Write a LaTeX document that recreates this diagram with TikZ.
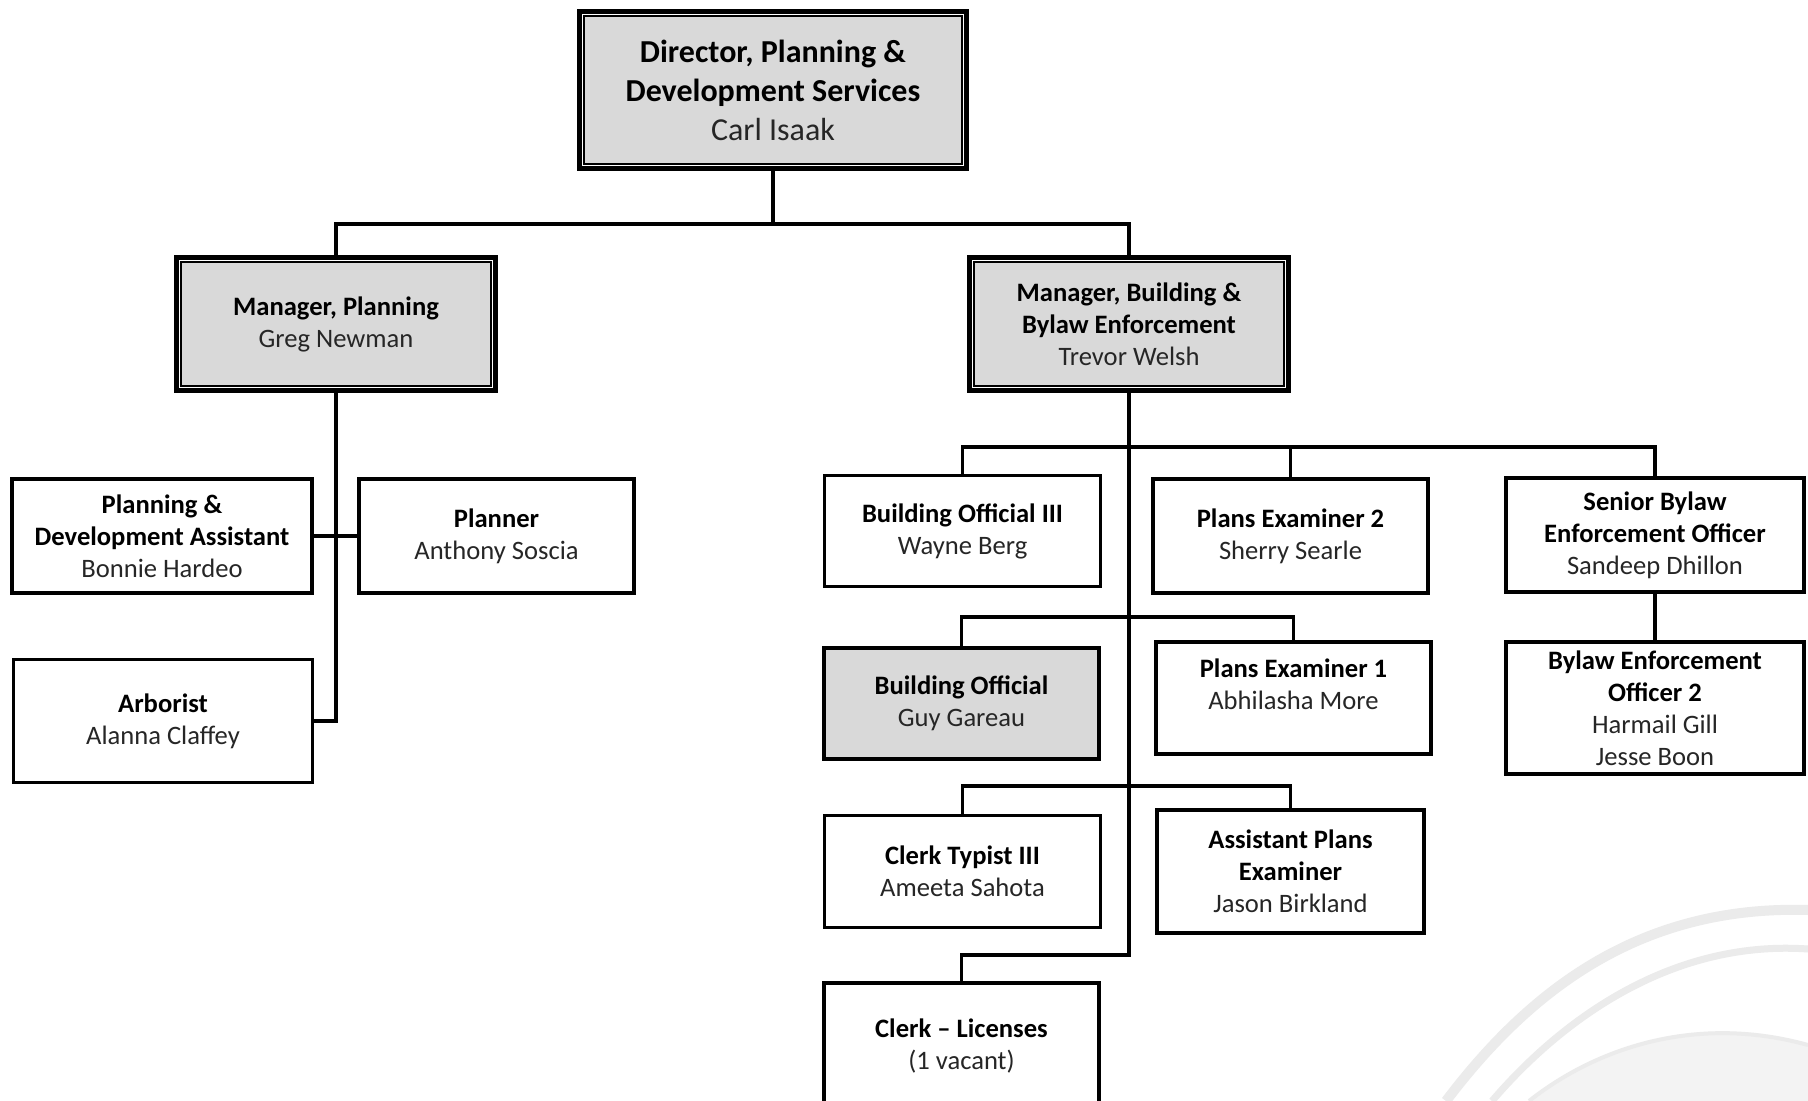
\documentclass[tikz,border=0pt]{standalone}
\usepackage{fontspec}
\setmainfont{Carlito}
\definecolor{boxgray}{HTML}{D9D9D9}
\definecolor{namegray}{HTML}{262626}
\definecolor{markline}{HTML}{EBEBEB}
\definecolor{markfill}{HTML}{F3F3F3}
\newcommand\who[1]{\textcolor{namegray}{#1}}
% thin second frame just inside a heavy head box, with a white gap between
\newcommand\innerframe[1]{%
  \draw[white, line width=0.6pt] ([shift={(5.6,5.6)}]#1.north west) rectangle ([shift={(-5.6,-5.6)}]#1.south east);
  \draw[line width=0.8pt] ([shift={(7,7)}]#1.north west) rectangle ([shift={(-7,-7)}]#1.south east);}
\begin{document}
\begin{tikzpicture}[x=0.5pt,y=-0.5pt,
  sz/.style 2 args={minimum width=#1*0.5pt, minimum height=#2*0.5pt},
  box/.style={draw, rectangle, align=center, inner sep=0pt, line width=1.75pt,
              font=\fontsize{13.3}{16}\selectfont, text=black},
  thinbox/.style={box, line width=1.25pt},
  heavybox/.style={box, line width=2.25pt},
  graybox/.style={box, fill=boxgray, line width=2pt},
  headbox/.style={box, fill=boxgray, line width=2.5pt},
  link/.style={line width=1.75pt, line join=miter, line cap=rect}
]
\clip (0,0) rectangle (1808,1101);
\fill[white] (0,0) rectangle (1808,1101);

% faint logo swooshes, lower right
\fill[markfill] (1529,1101) .. controls (1600,1045) and (1700,1015) .. (1808,1045) -- (1808,1101) -- cycle;
\draw[markline, line width=2pt] (1529,1101) .. controls (1600,1045) and (1700,1015) .. (1808,1045);
\draw[markline, line width=5pt] (1446,1101) .. controls (1530,990) and (1640,905) .. (1808,910);
\draw[markline, line width=3.5pt] (1492,1101) .. controls (1570,1010) and (1680,940) .. (1808,949);

% director
\node[headbox, sz={387}{157}, font=\fontsize{16}{19.5}\selectfont] (dir) at (773,90)
  {\textbf{Director, Planning \&}\\\textbf{Development Services}\\\who{Carl Isaak}};
\innerframe{dir}

% managers
\node[headbox, sz={319}{133}] (mp) at (336,324)
  {\textbf{Manager, Planning}\\\who{Greg Newman}};
\innerframe{mp}
\node[headbox, sz={319}{133}] (mb) at (1129,324)
  {\textbf{Manager, Building \&}\\\textbf{Bylaw Enforcement}\\\who{Trevor Welsh}};
\innerframe{mb}

% planning staff
\node[box, sz={300}{114}] (pda) at (162,536)
  {\textbf{Planning \&}\\\textbf{Development Assistant}\\\who{Bonnie Hardeo}};
\node[box, sz={275}{114}] (pl) at (496.5,536)
  {\textbf{Planner}\\\who{Anthony Soscia}};
\node[thinbox, sz={299}{123}] (arb) at (163,721)
  {\textbf{Arborist}\\\who{Alanna Claffey}};

% building and bylaw staff
\node[thinbox, sz={276}{111}] (bo3) at (962.5,531)
  {\textbf{Building Official III}\\\who{Wayne Berg}};
\node[box, sz={275}{114}] (pe2) at (1290.5,536)
  {\textbf{Plans Examiner 2}\\\who{Sherry Searle}};
\node[box, sz={298}{114}] (sbe) at (1655,535)
  {\textbf{Senior Bylaw}\\\textbf{Enforcement Officer}\\\who{Sandeep Dhillon}};
\node[box, sz={298}{132}] (beo) at (1655,708)
  {\textbf{Bylaw Enforcement}\\\textbf{Officer 2}\\\who{Harmail Gill}\\\who{Jesse Boon}};
\node[graybox, sz={275}{111}] (bo) at (961.5,703.5)
  {\textbf{Building Official}\\\who{Guy Gareau}};
\node[box, sz={275}{112}] (pe1) at (1293.5,698)
  {\textbf{Plans Examiner 1}\\\who{Abhilasha More}\\[-2pt]\mbox{}};
\node[thinbox, sz={276}{112}] (ct) at (962.5,871.5)
  {\textbf{Clerk Typist III}\\\who{Ameeta Sahota}};
\node[box, sz={267}{123}] (ape) at (1290.5,871.5)
  {\textbf{Assistant Plans}\\\textbf{Examiner}\\\who{Jason Birkland}};
\node[heavybox, sz={275}{126}] (cl) at (961.5,1046)
  {\textbf{Clerk -- Licenses}\\\who{(1 vacant)}};

% junction points of the connector buses
\coordinate (top) at (773,224);
\coordinate (b1) at (1129,447);
\coordinate (b2) at (1129,617);
\coordinate (b3) at (1129,786);
\coordinate (elbow) at (1129,955);

% connectors
\draw[link] (dir.south) -- (top);
\draw[link] (mp.north) |- (top) -| (mb.north);

\draw[link] (mp.south) |- (arb.east);
\draw[link] (pda.east) -- (pl.west);

\draw[link] (mb.south) -- (elbow) -| (cl.north);
\draw[link] (bo3.north) |- (b1) -| (sbe.north);
\draw[link] (pe2.north) -- (pe2.north |- b1);
\draw[link] (bo.north) |- (b2) -| (pe1.north);
\draw[link] (ct.north) |- (b3) -| (ape.north);
\draw[link] (sbe.south) -- (beo.north);
\end{tikzpicture}
\end{document}
